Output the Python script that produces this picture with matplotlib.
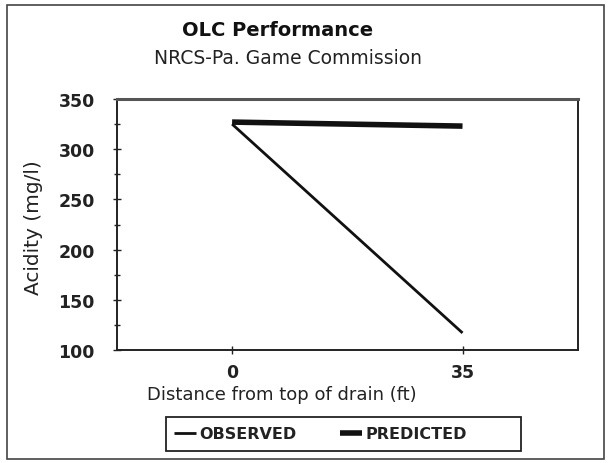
import matplotlib.pyplot as plt
from matplotlib.patches import Rectangle

plt.rcParams['font.family'] = ['DejaVu Sans']

# data
distance = ['0', '35']
observed = [325, 117]
predicted = [327, 323]

fig = plt.figure(figsize=(6.12, 4.64), dpi=100)
ax = fig.add_axes([0.191, 0.2435, 0.753, 0.541])

xs = range(len(distance))
ax.plot(xs, observed, color='#111111', lw=2.0, label='OBSERVED', solid_capstyle='butt')
ax.plot(xs, predicted, color='#111111', lw=4.0, label='PREDICTED', solid_capstyle='butt')

ax.set_xlim(-0.5, 1.5)
ax.set_ylim(100, 350)
ax.set_xticks(list(xs))
ax.set_xticklabels(distance)
ax.set_yticks(range(100, 351, 50))
ax.set_yticks(range(100, 351, 25), minor=True)
ax.tick_params(axis='both', which='major', direction='inout', length=6, width=1,
               labelsize=12.5, color='#222222')
ax.tick_params(axis='y', which='minor', direction='inout', length=4, width=1, color='#222222')
ax.tick_params(axis='y', pad=13)
ax.tick_params(axis='x', pad=6)
for lab in ax.get_xticklabels() + ax.get_yticklabels():
    lab.set_fontweight('bold')
    lab.set_color('#222222')

for s in ['left', 'bottom', 'right']:
    ax.spines[s].set_linewidth(1.4)
    ax.spines[s].set_color('#222222')
ax.spines['top'].set_linewidth(2.2)
ax.spines['top'].set_color('#555555')

ax.set_ylabel('Acidity (mg/l)', fontsize=14.5, color='#222222')
ax.yaxis.set_label_coords(-0.16, 0.49)

fig.text(0.454, 0.935, 'OLC Performance', ha='center', va='center',
         fontsize=14, fontweight='bold', color='#111111')
fig.text(0.471, 0.873, 'NRCS-Pa. Game Commission', ha='center', va='center',
         fontsize=13.5, color='#222222')
fig.text(0.461, 0.148, 'Distance from top of drain (ft)', ha='center', va='center',
         fontsize=13, color='#222222')

# legend without its own frame, the box is drawn separately (it is wider than the entries)
leg = fig.legend(loc='center left', bbox_to_anchor=(0.284, 0.0625), ncol=2, frameon=False,
                 handlelength=1.4, handletextpad=0.2, columnspacing=2.7,
                 borderpad=0, borderaxespad=0, prop={'weight': 'bold', 'size': 11.5})
for t in leg.get_texts():
    t.set_color('#222222')
fig.patches.append(Rectangle((0.2712, 0.026), 0.58, 0.0733, transform=fig.transFigure,
                             fill=False, lw=1.3, edgecolor='#222222'))

# outer frame around the figure
fig.patches.append(Rectangle((0.011, 0.009), 0.976, 0.978, transform=fig.transFigure,
                             fill=False, lw=1.2, edgecolor='#444444'))

fig.savefig('out.png', dpi=100)
